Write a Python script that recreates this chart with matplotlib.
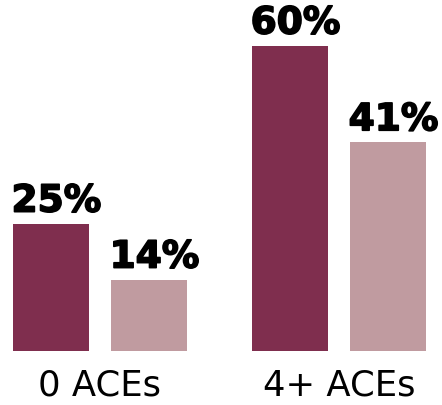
import matplotlib
matplotlib.use('Agg')
import matplotlib.pyplot as plt
import matplotlib.patheffects as pe
import numpy as np

# chart data
groups = ['0 ACEs', '4+ ACEs']
series_dark = [25, 60]
series_light = [14, 41]

dark_color = '#7f2e4e'
light_color = '#c09ba0'

fig = plt.figure(figsize=(4.42, 4.05), dpi=100)
ax = fig.add_axes([0, 54 / 405, 1, 351 / 405])

x = np.arange(len(groups))
width = 0.318
offset = 0.205

bars_dark = ax.bar(x - offset, series_dark, width, color=dark_color)
bars_light = ax.bar(x + offset, series_light, width, color=light_color)

# value labels above bars (slightly thickened to look like a black weight)
for bars, vals in [(bars_dark, series_dark), (bars_light, series_light)]:
    for b, v in zip(bars, vals):
        ax.annotate(f'{v}%', (b.get_x() + b.get_width() / 2, v),
                    xytext=(4, 3), textcoords='offset points',
                    ha='center', va='bottom', fontsize=27,
                    fontweight='bold', family='DejaVu Sans',
                    path_effects=[pe.withStroke(linewidth=1.2, foreground='black')])

# group labels under the bars
for xi, g in zip(x, groups):
    ax.text(xi, -44 / 351, g, transform=ax.get_xaxis_transform(),
            ha='center', va='baseline', fontsize=25.5,
            family='DejaVu Sans')

ax.set_xlim(-0.418, 1.431)
ax.set_ylim(0, 69)
ax.set_xticks([])
ax.set_yticks([])
for s in ax.spines.values():
    s.set_visible(False)

plt.savefig('out.png', dpi=100)
